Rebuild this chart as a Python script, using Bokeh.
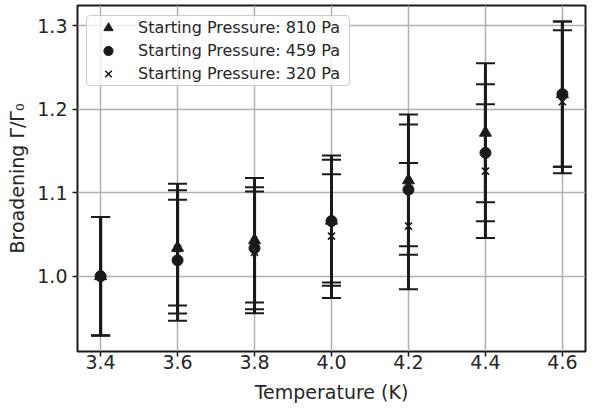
import numpy as np
from bokeh.plotting import figure
from bokeh.models import (Range1d, FixedTicker, PrintfTickFormatter, Legend, LegendItem)
from bokeh.embed import file_html
from bokeh.resources import INLINE

# ---- data ----
temperature = [3.4, 3.6, 3.8, 4.0, 4.2, 4.4, 4.6]

p810_val = [1.000, 1.034, 1.043, 1.0665, 1.1148, 1.1718, 1.218]
p810_err = [0.071, 0.069, 0.0745, 0.078, 0.079, 0.0833, 0.087]

p459_val = [1.000, 1.019, 1.0335, 1.066, 1.1037, 1.1478, 1.218]
p459_err = [0.071, 0.0725, 0.073, 0.0735, 0.078, 0.082, 0.087]

p320_val = [1.000, 1.033, 1.0285, 1.048, 1.060, 1.1258, 1.209]
p320_err = [0.071, 0.0777, 0.073, 0.074, 0.0755, 0.080, 0.0856]

series_labels = ["Starting Pressure: 810 Pa",
                 "Starting Pressure: 459 Pa",
                 "Starting Pressure: 320 Pa"]
x_ticks = [3.4, 3.6, 3.8, 4.0, 4.2, 4.4, 4.6]
y_ticks = [1.0, 1.1, 1.2, 1.3]

INK = "#1a1a1a"
TXT = "#262626"
FONT = "DejaVu Sans"

p = figure(width=596, height=410, output_backend="svg", toolbar_location=None,
           x_range=Range1d(3.34, 4.66), y_range=Range1d(0.9098, 1.3242))
p.min_border_left = 77
p.min_border_right = 11
p.min_border_top = 5
p.min_border_bottom = 59

p.outline_line_color = INK
p.outline_line_width = 2
p.background_fill_color = "white"
p.border_fill_color = "white"

for ax in (p.xaxis[0], p.yaxis[0]):
    ax.axis_line_color = None
    ax.major_tick_line_color = INK
    ax.major_tick_line_width = 1.5
    ax.major_tick_out = 5
    ax.major_tick_in = 0
    ax.minor_tick_line_color = None
    ax.major_label_text_font = FONT
    ax.major_label_text_font_size = "19px"
    ax.major_label_text_color = TXT
    ax.axis_label_text_font = FONT
    ax.axis_label_text_font_size = "19px"
    ax.axis_label_text_font_style = "normal"
    ax.axis_label_text_color = TXT

p.xaxis.ticker = FixedTicker(ticks=x_ticks)
p.yaxis.ticker = FixedTicker(ticks=y_ticks)
p.xaxis.formatter = PrintfTickFormatter(format="%.1f")
p.yaxis.formatter = PrintfTickFormatter(format="%.1f")
p.xaxis.major_label_standoff = -2
p.yaxis.major_label_standoff = 5
p.xaxis.axis_label = "Temperature (K)"
p.yaxis.axis_label = "Broadening Γ/Γ₀"
p.xaxis.axis_label_standoff = 9
p.yaxis.axis_label_standoff = 6

p.xgrid.grid_line_color = "#b0b0b0"
p.ygrid.grid_line_color = "#b0b0b0"
p.xgrid.grid_line_width = 1.5
p.ygrid.grid_line_width = 1.5

series = [(p810_val, p810_err, "triangle"),
          (p459_val, p459_err, "circle"),
          (p320_val, p320_err, "x")]

marker_renderers = []
for vals, errs, mk in series:
    v = np.array(vals)
    e = np.array(errs)
    lo = v - e
    hi = v + e
    p.segment(x0=temperature, y0=lo, x1=temperature, y1=hi,
              line_color=INK, line_width=3)
    p.scatter(x=temperature + temperature, y=list(lo) + list(hi), marker="dash",
              size=19, line_color=INK, line_width=2)
    if mk == "x":
        r = p.scatter(x=temperature, y=vals, marker="x", size=10,
                      line_color=INK, line_width=1.6)
    elif mk == "triangle":
        r = p.scatter(x=temperature, y=vals, marker="triangle", size=12,
                      fill_color=INK, line_color=INK)
    else:
        r = p.scatter(x=temperature, y=vals, marker="circle", size=11,
                      fill_color=INK, line_color=INK)
    marker_renderers.append(r)

legend = Legend(items=[LegendItem(label=lab, renderers=[r])
                       for lab, r in zip(series_labels, marker_renderers)],
                location=(9, 265), margin=0, padding=0, spacing=0,
                glyph_width=42, glyph_height=23, label_standoff=9,
                label_width=211,
                label_text_font=FONT, label_text_font_size="16px",
                label_text_color=TXT, border_line_color="#cccccc",
                border_line_width=1, border_line_alpha=1.0,
                border_radius=4,
                background_fill_alpha=0.8)
p.add_layout(legend)

open("out.html", "w").write(file_html(p, INLINE))
